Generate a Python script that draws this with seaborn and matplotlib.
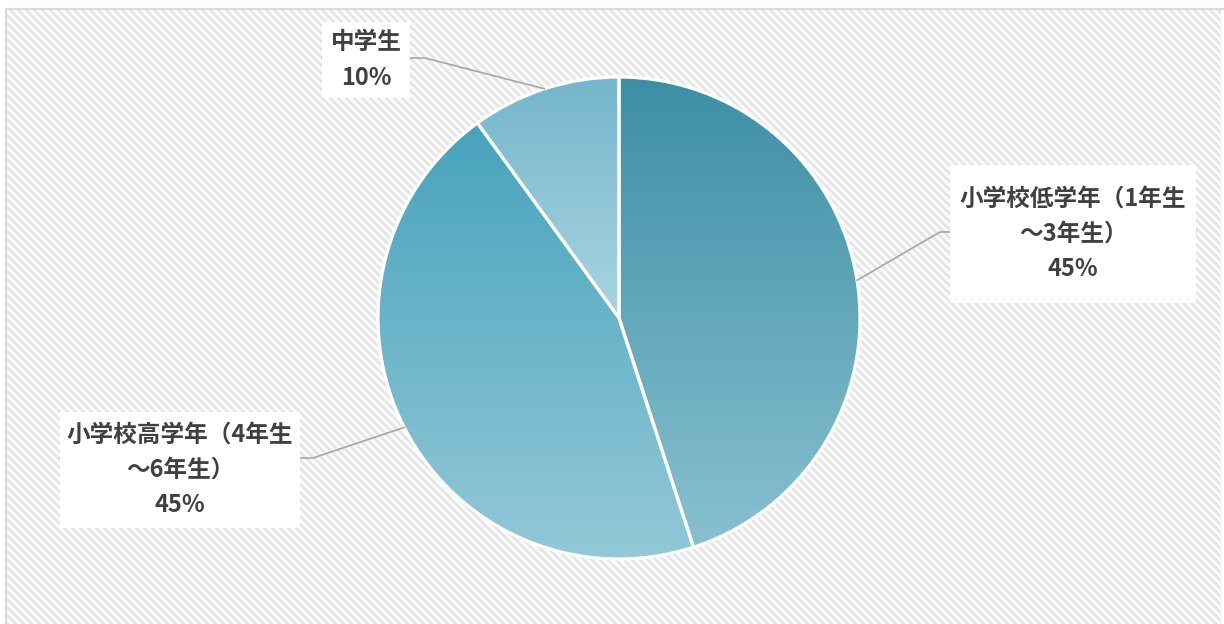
import numpy as np
import matplotlib.pyplot as plt
import seaborn as sns
from matplotlib.patches import Rectangle

# data
labels = ['小学校低学年（1年生\n～3年生）', '小学校高学年（4年生\n～6年生）', '中学生']
shares = [45, 45, 10]

# gradient (top -> bottom) of each slice
grad_colors = [('#3d8ea5', '#88c1d0'),
               ('#47a3bc', '#94c9d8'),
               ('#74b6cc', '#aad4e1')]

# label boxes: (x0, y0, w, h) and elbow of the leader line, in pixels (y down)
boxes = [(950, 165, 246, 138), (60, 412, 240, 116), (322, 22, 88, 76)]
elbows = [(940, 232), (313, 458), (425, 58)]

W, H = 1224, 624
sns.set_theme(style='white')
plt.rcParams['font.family'] = ['Noto Sans CJK JP', 'DejaVu Sans']

fig = plt.figure(figsize=(W / 100, H / 100), dpi=100)
ax = fig.add_axes([0, 0, 1, 1])

# diagonal striped background (8 px period) + frame
fx0, fy0 = 6, 9
px, py = np.meshgrid(np.arange(fx0, 1221), np.arange(fy0, H))
stripes = 0.5 + 0.5 * np.cos(2 * np.pi * (px - py) / 8)
bg = ax.imshow(stripes, cmap=sns.blend_palette(['white', '#e3e3e3'], as_cmap=True),
               extent=[fx0, 1221, 0, H - fy0], origin='upper', aspect='auto',
               interpolation='nearest', zorder=0)
ax.add_patch(Rectangle((fx0, -10), W, H - fy0 + 10, facecolor='none',
                       edgecolor='#d9d9d9', lw=1.6, zorder=1))

cx, cy, r = 619, H - 318, 241
wedges, _ = ax.pie(shares, startangle=90, counterclock=False, center=(cx, cy),
                   radius=r, frame=True,
                   wedgeprops=dict(facecolor='none', edgecolor='white', linewidth=2.3))

grad = np.linspace(0, 1, 256).reshape(-1, 1)
for w, (c0, c1) in zip(wedges, grad_colors):
    w.set_zorder(4)
    v = w.get_path().vertices
    cmap = sns.blend_palette([c0, c1], n_colors=256, as_cmap=True)
    im = ax.imshow(grad, cmap=cmap, aspect='auto', origin='upper',
                   extent=[v[:, 0].min(), v[:, 0].max(), v[:, 1].min(), v[:, 1].max()],
                   zorder=3)
    im.set_clip_path(w)

# labels with leader lines
for w, lab, pct, (bx, by, bw, bh), (ex, ey) in zip(wedges, labels, shares, boxes, elbows):
    ang = np.deg2rad((w.theta1 + w.theta2) / 2)
    ax0, ay0 = cx + r * np.cos(ang), cy + r * np.sin(ang)
    edge_x = bx if ex > bx else bx + bw
    ax.plot([ax0, ex, edge_x], [ay0, H - ey, H - ey], color='#a6a6a6', lw=1.2, zorder=5)
    ax.add_patch(Rectangle((bx, H - by - bh), bw, bh, facecolor='white',
                           edgecolor='none', zorder=6))
    ax.text(bx + bw / 2, H - by - bh / 2, f'{lab}\n{pct}%', ha='center', va='center',
            fontsize=17, fontweight='bold', color='#404040', linespacing=1.6, zorder=7)

ax.set_xlim(0, W)
ax.set_ylim(0, H)
ax.set_aspect('equal')
ax.axis('off')
fig.savefig('out.png', dpi=100)
